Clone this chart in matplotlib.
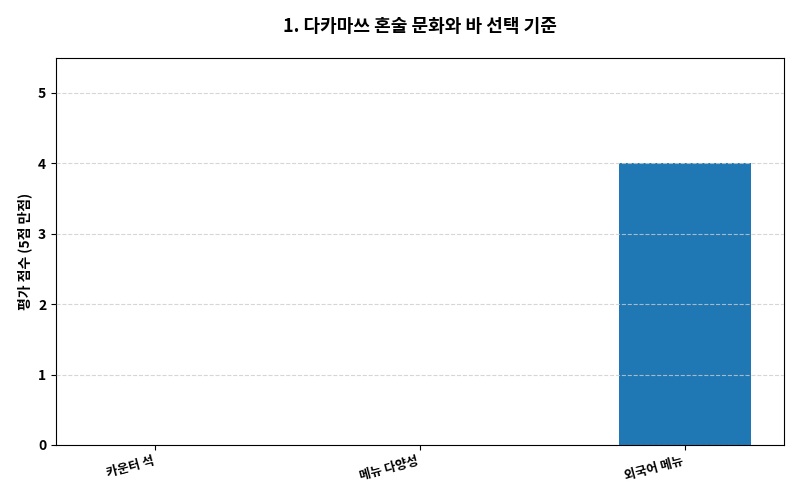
import matplotlib
matplotlib.use("Agg")
import matplotlib.pyplot as plt

plt.rcParams['font.family'] = ['Noto Sans CJK KR', 'DejaVu Sans']

categories = ["카운터 석", "메뉴 다양성", "외국어 메뉴"]
scores = [0, 0, 4]

fig, ax = plt.subplots(figsize=(8, 5), dpi=100)
ax.bar(categories, scores, color="#1f77b4", width=0.5, zorder=2)
ax.set_ylim(0, 5.5)
ax.set_yticks([0, 1, 2, 3, 4, 5])
ax.grid(axis='y', linestyle='--', color='#cccccc', alpha=0.8, zorder=3)
ax.set_axisbelow(False)
ax.set_ylabel("평가 점수 (5점 만점)", fontsize=10, fontweight='bold')
ax.set_title("1. 다카마쓰 혼술 문화와 바 선택 기준", fontsize=13, fontweight='bold', pad=18)
for lbl in ax.get_xticklabels():
    lbl.set_rotation(15); lbl.set_ha('right'); lbl.set_fontsize(9); lbl.set_fontweight('bold')
for lbl in ax.get_yticklabels():
    lbl.set_fontweight('bold'); lbl.set_fontsize(10)
fig.subplots_adjust(left=0.07, right=0.98, top=0.885, bottom=0.11)
fig.savefig("out.png")
